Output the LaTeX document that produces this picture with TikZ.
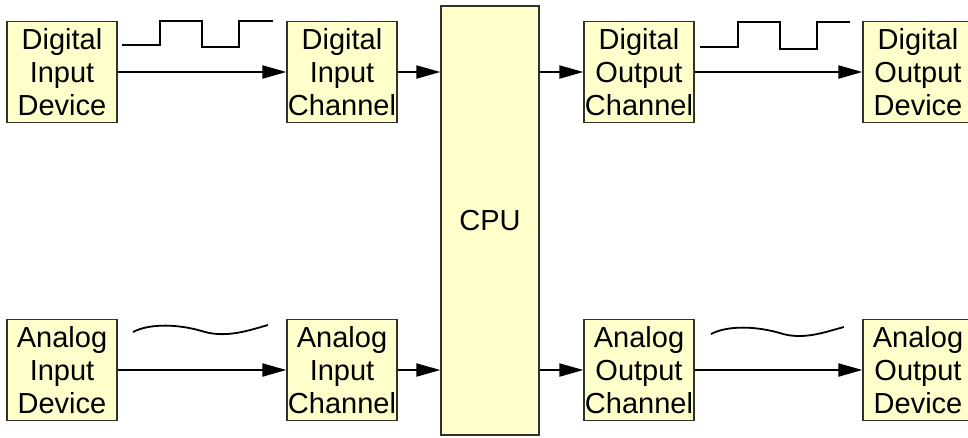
\documentclass[tikz,border=0pt]{standalone}
\usepackage{fontspec}
\setmainfont{Liberation Sans}
\usetikzlibrary{arrows.meta}
\definecolor{boxfill}{RGB}{255,255,204}
\definecolor{boxline}{RGB}{50,50,40}
\begin{document}
\begin{tikzpicture}[x=1pt,y=-1pt,
  box/.style={draw=boxline, fill=boxfill, line width=1.3pt, inner sep=0pt,
    minimum width=110pt, minimum height=101pt, align=center,
    font=\fontsize{29}{33}\selectfont},
  conn/.style={line width=2pt, -{Triangle[length=24pt,width=13pt]}},
  wave/.style={line width=1.8pt}]
\useasboundingbox (0,0) rectangle (968,437);
\clip (0,0) rectangle (968,437);
% digital row
\node[box] (did) at (62,72) {Digital\\Input\\Device};
\node[box] (dic) at (342,72) {Digital\\Input\\Channel};
\node[box] (doc) at (639,72) {Digital\\Output\\Channel};
\node[box] (dod) at (918,72) {Digital\\Output\\Device};
% analog row
\node[box] (aid) at (62,370) {Analog\\Input\\Device};
\node[box] (aic) at (342,370) {Analog\\Input\\Channel};
\node[box] (aoc) at (639,370) {Analog\\Output\\Channel};
\node[box] (aod) at (918,370) {Analog\\Output\\Device};
% cpu
\node[box, minimum width=98pt, minimum height=429pt] (cpu) at (490,220.5) {CPU};
% connectors
\draw[conn] (did) -- (dic);
\draw[conn] (dic.east) -- (dic.east -| cpu.west);
\draw[conn] (cpu.east |- doc.west) -- (doc.west);
\draw[conn] (doc) -- (dod);
\draw[conn] (aid) -- (aic);
\draw[conn] (aic.east) -- (aic.east -| cpu.west);
\draw[conn] (cpu.east |- aoc.west) -- (aoc.west);
\draw[conn] (aoc) -- (aod);
% digital waves
\draw[wave] (122,45) -- (160,45) -- (160,21) -- (202,21) -- (202,47) -- (239,47) -- (239,21) -- (273,21);
\draw[wave] (700,47) -- (738,47) -- (738,22) -- (780,22) -- (780,49) -- (817,49) -- (817,22) -- (850,22);
% analog waves
\draw[wave] (133,332) .. controls (150,323) and (180,324) .. (205,332) .. controls (228,338) and (250,330) .. (268,325);
\draw[wave] (711,334) .. controls (728,325) and (758,326) .. (783,334) .. controls (806,340) and (828,331) .. (844,327);
\end{tikzpicture}
\end{document}
